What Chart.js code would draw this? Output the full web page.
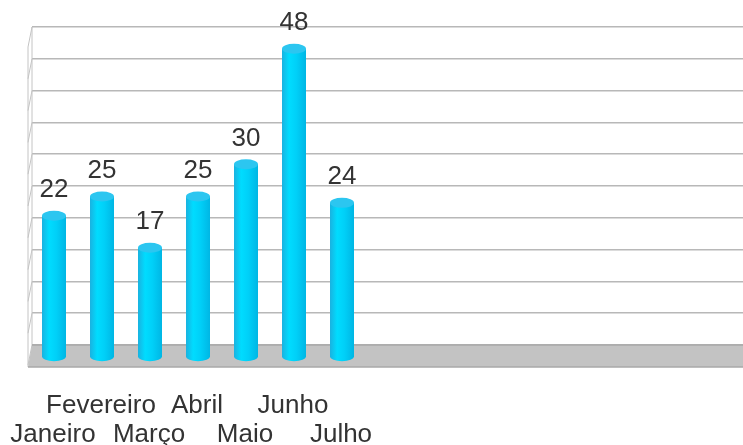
<!DOCTYPE html>
<html>
<head>
<meta charset="utf-8">
<script src="https://cdn.jsdelivr.net/npm/chart.js@4.4.1/dist/chart.umd.min.js"></script>
<style>
  html, body { margin: 0; padding: 0; background: #fff; overflow: hidden; }
  #wrap { width: 752px; height: 445px; }
</style>
</head>
<body>
<div id="wrap"><canvas id="chart" width="752" height="445"></canvas></div>
<script>
// dados
const meses = ['Janeiro', 'Fevereiro', 'Março', 'Abril', 'Maio', 'Junho', 'Julho'];
const valores = [22, 25, 17, 25, 30, 48, 24];
const totalSlots = 15; // o gráfico original tem espaço vazio à direita

const labels = [];
const dados = [];
for (let i = 0; i < totalSlots; i++) {
  labels.push(i < meses.length ? meses[i] : '');
  dados.push(i < valores.length ? valores[i] : null);
}

// deslocamento "3D" entre a parede do fundo e a frente
const DX = -2, DY = 12, PERSP = 1.01;

const pisoPlugin = {
  id: 'piso',
  beforeDatasetsDraw(chart) {
    const { ctx, chartArea } = chart;
    const yScale = chart.scales.y;
    ctx.save();
    // parede esquerda
    ctx.strokeStyle = '#c4c4c4';
    ctx.lineWidth = 1;
    yScale.ticks.forEach(t => {
      const gy = yScale.getPixelForValue(t.value);
      ctx.beginPath();
      ctx.moveTo(chartArea.left, gy);
      ctx.lineTo(chartArea.left - 4, gy + 20);
      ctx.stroke();
    });
    ctx.beginPath();
    ctx.moveTo(chartArea.left - 4, chartArea.top + 20);
    ctx.lineTo(chartArea.left - 4, chartArea.bottom + 22);
    ctx.stroke();
    ctx.beginPath();
    ctx.moveTo(chartArea.left, chartArea.top);
    ctx.lineTo(chartArea.left, chartArea.bottom);
    ctx.stroke();
    // piso cinza
    ctx.fillStyle = '#c3c3c3';
    ctx.beginPath();
    ctx.moveTo(chartArea.left, chartArea.bottom);
    ctx.lineTo(chartArea.right, chartArea.bottom);
    ctx.lineTo(chartArea.right, chartArea.bottom + 22);
    ctx.lineTo(chartArea.left - 4, chartArea.bottom + 22);
    ctx.closePath();
    ctx.fill();
    ctx.strokeStyle = '#a9a9a9';
    ctx.lineWidth = 1.5;
    ctx.beginPath();
    ctx.moveTo(chartArea.left, chartArea.bottom);
    ctx.lineTo(chartArea.right, chartArea.bottom);
    ctx.moveTo(chartArea.left - 4, chartArea.bottom + 22);
    ctx.lineTo(chartArea.right, chartArea.bottom + 22);
    ctx.stroke();
    ctx.restore();
  },
  afterDatasetsDraw(chart) {
    const { ctx } = chart;
    const meta = chart.getDatasetMeta(0);
    ctx.save();
    meta.data.forEach((bar, i) => {
      if (dados[i] == null) return;
      const cx = bar.x + DX;
      const base = bar.base + DY;
      const top = base + (bar.y - bar.base) * PERSP;
      const w = bar.width;
      const rx = w / 2, ry = 5;
      const left = cx - rx;

      const grad = ctx.createLinearGradient(left, 0, left + w, 0);
      grad.addColorStop(0, '#1ab2e0');
      grad.addColorStop(0.3, '#00dcff');
      grad.addColorStop(0.6, '#00d0f8');
      grad.addColorStop(1, '#00b6e4');

      // corpo + base
      ctx.fillStyle = grad;
      ctx.beginPath();
      ctx.moveTo(left, top);
      ctx.lineTo(left, base);
      ctx.ellipse(cx, base, rx, ry, 0, Math.PI, 0, true);
      ctx.lineTo(left + w, top);
      ctx.closePath();
      ctx.fill();

      // tampa
      ctx.fillStyle = '#2cc6f0';
      ctx.beginPath();
      ctx.ellipse(cx, top, rx, ry, 0, 0, Math.PI * 2);
      ctx.fill();

      // rótulo do valor
      ctx.fillStyle = '#333333';
      ctx.font = '26px "Liberation Sans", Arial, sans-serif';
      ctx.textAlign = 'center';
      ctx.textBaseline = 'alphabetic';
      ctx.fillText(String(dados[i]), cx, top - ry - 13.5);
    });
    ctx.restore();
  }
};

new Chart(document.getElementById('chart'), {
  type: 'bar',
  data: {
    labels: labels,
    datasets: [{
      data: dados,
      backgroundColor: 'rgba(0,0,0,0)',
      borderWidth: 0,
      barPercentage: 0.5,
      categoryPercentage: 1
    }]
  },
  plugins: [pisoPlugin],
  options: {
    responsive: false,
    animation: false,
    layout: { padding: { left: 32, top: 27, right: 0, bottom: 0 } },
    plugins: { legend: { display: false }, tooltip: { enabled: false } },
    scales: {
      x: {
        grid: { display: false, drawTicks: false },
        border: { display: false },
        afterFit(scale) {
          scale.paddingLeft = 0;
          scale.paddingRight = 0;
          scale.height = 100;
        },
        ticks: {
          autoSkip: false,
          maxRotation: 0,
          minRotation: 0,
          padding: 47,
          labelOffset: -3,
          color: '#333333',
          font: { family: '"Liberation Sans", Arial, sans-serif', size: 26, lineHeight: 1.1 },
          callback: function (value, index) {
            const nome = labels[index];
            if (!nome) return '';
            return index % 2 === 1 ? [nome, ''] : ['', nome];
          }
        }
      },
      y: {
        min: 0,
        max: 50,
        afterFit(scale) {
          scale.width = 0;
          scale.paddingTop = 0;
          scale.paddingBottom = 0;
        },
        ticks: { display: false, stepSize: 5 },
        grid: { color: '#b8b8b8', lineWidth: 1.5, drawTicks: false },
        border: { display: false }
      }
    }
  }
});
</script>
</body>
</html>
